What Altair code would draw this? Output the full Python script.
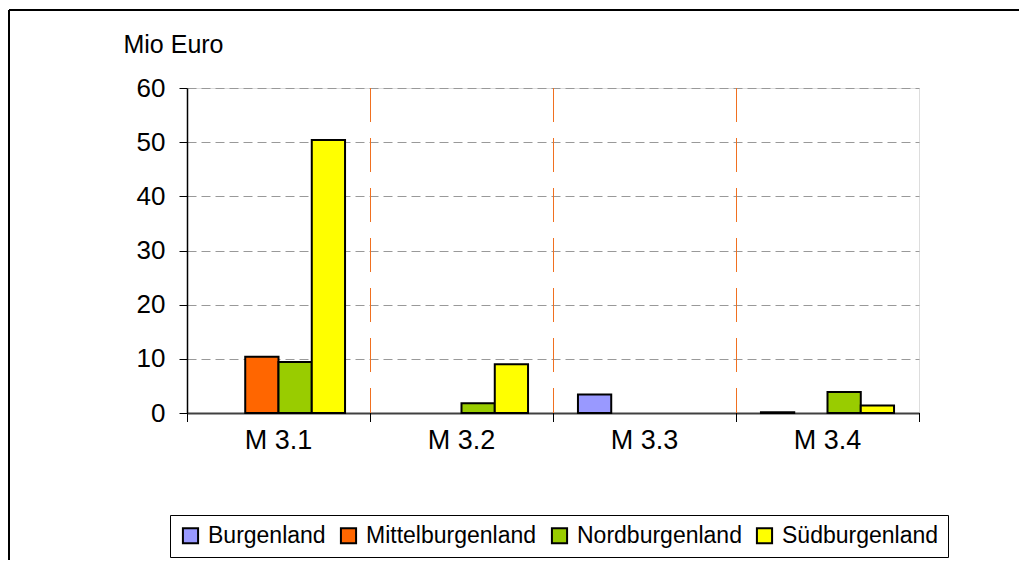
import altair as alt
import pandas as pd

groups = ["M 3.1", "M 3.2", "M 3.3", "M 3.4"]
series = ["Burgenland", "Mittelburgenland", "Nordburgenland", "Südburgenland"]
colors = ["#9999FF", "#FF6600", "#99CC00", "#FFFF00"]

burgenland = [None, None, 3.4, 0.15]
mittelburgenland = [10.4, None, None, None]
nordburgenland = [9.4, 1.8, None, 3.9]
suedburgenland = [50.4, 9.0, None, 1.4]

values = [burgenland, mittelburgenland, nordburgenland, suedburgenland]
rows = []
for s, vals in zip(series, values):
    for g, v in zip(groups, vals):
        if v is not None:
            rows.append({"Maßnahme": g, "Region": s, "Wert": v})
df = pd.DataFrame(rows)
grid_df = pd.DataFrame({"Maßnahme": groups[1:]})
tick_df = pd.DataFrame({"Maßnahme": groups})

W, H = 732, 325
FONT = "Liberation Sans"
HALF_STEP = W / len(groups) / 2

xscale = alt.Scale(domain=groups, paddingInner=0, paddingOuter=0)


def x_axis():
    return alt.Axis(
        title=None,
        labelAngle=0,
        bandPosition=0.5,
        labelAlign="center",
        labelFontSize=27,
        labelFont=FONT,
        labelColor="black",
        labelPadding=14,
        ticks=False,
        domainColor="#404040",
        domainWidth=2,
        grid=False,
    )


bars = alt.Chart(df).mark_bar(stroke="black", strokeWidth=2).encode(
    x=alt.X("Maßnahme:N", sort=groups, scale=xscale, axis=x_axis()),
    xOffset=alt.XOffset(
        "Region:N",
        sort=series,
        scale=alt.Scale(domain=series, paddingInner=0, paddingOuter=0.75),
    ),
    y=alt.Y(
        "Wert:Q",
        scale=alt.Scale(domain=[0, 60], nice=False),
        axis=alt.Axis(
            values=[0, 10, 20, 30, 40, 50, 60],
            title="Mio Euro",
            titleAngle=0,
            titleX=-14,
            titleY=-36,
            titleAlign="center",
            titleBaseline="alphabetic",
            titleFontSize=25,
            titleFont=FONT,
            titleFontWeight="normal",
            titleColor="black",
            labelFontSize=26,
            labelFont=FONT,
            labelColor="black",
            labelPadding=14,
            tickSize=8,
            tickColor="black",
            domainColor="black",
            domainWidth=1.5,
            grid=True,
            gridColor="#999999",
            gridDash=[9, 5],
            gridWidth=1,
        ),
    ),
    color=alt.Color(
        "Region:N",
        sort=series,
        scale=alt.Scale(domain=series, range=colors),
        legend=alt.Legend(
            title=None,
            orient="none",
            legendX=-17,
            legendY=427,
            direction="horizontal",
            strokeColor="black",
            fillColor="white",
            padding=9,
            symbolType="square",
            symbolSize=230,
            symbolStrokeColor="black",
            symbolStrokeWidth=2,
            symbolOpacity=1,
            labelFontSize=23,
            labelFont=FONT,
            labelColor="black",
            labelOffset=6,
            labelLimit=400,
            columnPadding=10,
        ),
    ),
)

vgrid = alt.Chart(grid_df).mark_rule(
    color="#F07020", strokeWidth=1, strokeDash=[34, 16], xOffset=-HALF_STEP + 0.5
).encode(
    x=alt.X("Maßnahme:N", sort=groups, scale=xscale, axis=x_axis()),
    y=alt.value(0),
    y2=alt.value(H),
)

xticks = alt.Chart(tick_df).mark_rule(
    color="black", strokeWidth=1, xOffset=-HALF_STEP + 0.5
).encode(
    x=alt.X("Maßnahme:N", sort=groups, scale=xscale, axis=x_axis()),
    y=alt.value(H),
    y2=alt.value(H + 9),
)

frame_left = alt.Chart(df).mark_rule(color="black", strokeWidth=1.5).encode(
    x=alt.value(-178), y=alt.value(-78), y2=alt.value(480)
)
frame_top = alt.Chart(df).mark_rule(color="black", strokeWidth=1.5).encode(
    x=alt.value(-178), x2=alt.value(850), y=alt.value(-78)
)
end_tick = alt.Chart(df).mark_rule(color="black", strokeWidth=1, xOffset=0.5).encode(
    x=alt.value(W), y=alt.value(H), y2=alt.value(H + 9)
)

chart = (
    alt.layer(bars, vgrid, xticks, frame_left, frame_top, end_tick)
    .properties(
        width=W,
        height=H,
        autosize=alt.AutoSizeParams(type="none"),
        padding={"left": 179, "top": 80, "right": 100, "bottom": 147},
    )
    .configure_view(stroke="#808080", strokeWidth=2)
    .configure(background="white")
)

chart.save("out.html", embed_options={"renderer": "svg", "actions": False})
